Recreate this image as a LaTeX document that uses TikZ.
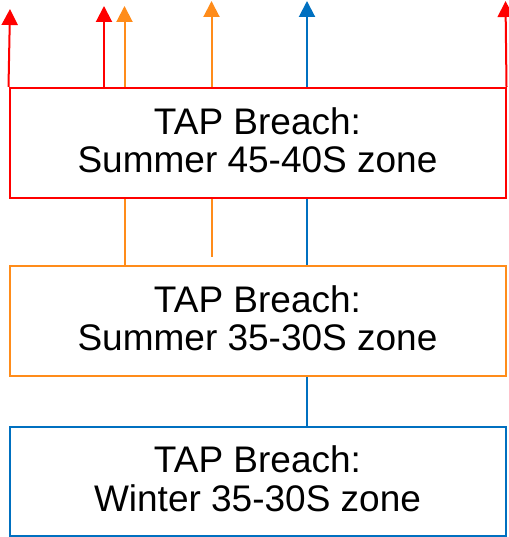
\documentclass[tikz,border=0pt]{standalone}
\usepackage{fontspec}
\setmainfont{Liberation Sans}
\usetikzlibrary{arrows.meta,backgrounds}
\definecolor{cred}{RGB}{255,0,0}
\definecolor{corange}{RGB}{255,140,26}
\definecolor{cblue}{RGB}{0,112,192}
\newcommand{\dropdepth}{\rule[-6pt]{0pt}{0pt}}
\tikzset{
  zonebox/.style={draw, line width=2pt, fill=white, minimum width=496pt, inner sep=0pt,
    align=center, font=\fontsize{37}{38.5}\selectfont},
  uparrow/.style={line width=2pt, -{Triangle[width=16pt,length=16pt]}},
  link/.style={line width=2pt}
}
\begin{document}
\begin{tikzpicture}[x=1pt,y=1pt]
\useasboundingbox (0,0) rectangle (508,537);
\node[zonebox, draw=cred, minimum height=110pt] (red) at (257.5,394) {TAP Breach:\\Summer 45-40S zone\dropdepth};
\node[zonebox, draw=corange, minimum height=110pt] (orange) at (257.5,216) {TAP Breach:\\Summer 35-30S zone\dropdepth};
\node[zonebox, draw=cblue, minimum height=109pt] (blue) at (257.5,55.5) {TAP Breach:\\Winter 35-30S zone\dropdepth};
\coordinate (t1) at (10,528);
\coordinate (t2) at (104,531);
\coordinate (t3) at (124.5,531);
\coordinate (t4) at (211.5,536);
\coordinate (s4) at (211.5,280);
\coordinate (t5) at (307,536);
\coordinate (t6) at (505.5,536);
\begin{scope}[on background layer]
\draw[uparrow, cred] (red.north west) -- (t1);
\draw[uparrow, cred] (red.north -| t2) -- (t2);
\draw[uparrow, corange] (orange.north -| t3) -- (t3);
\draw[uparrow, corange] (s4) -- (t4);
\draw[uparrow, cblue] (blue.north -| t5) -- (t5);
\draw[uparrow, cred] (red.north east) -- (t6);
\end{scope}
\end{tikzpicture}
\end{document}
